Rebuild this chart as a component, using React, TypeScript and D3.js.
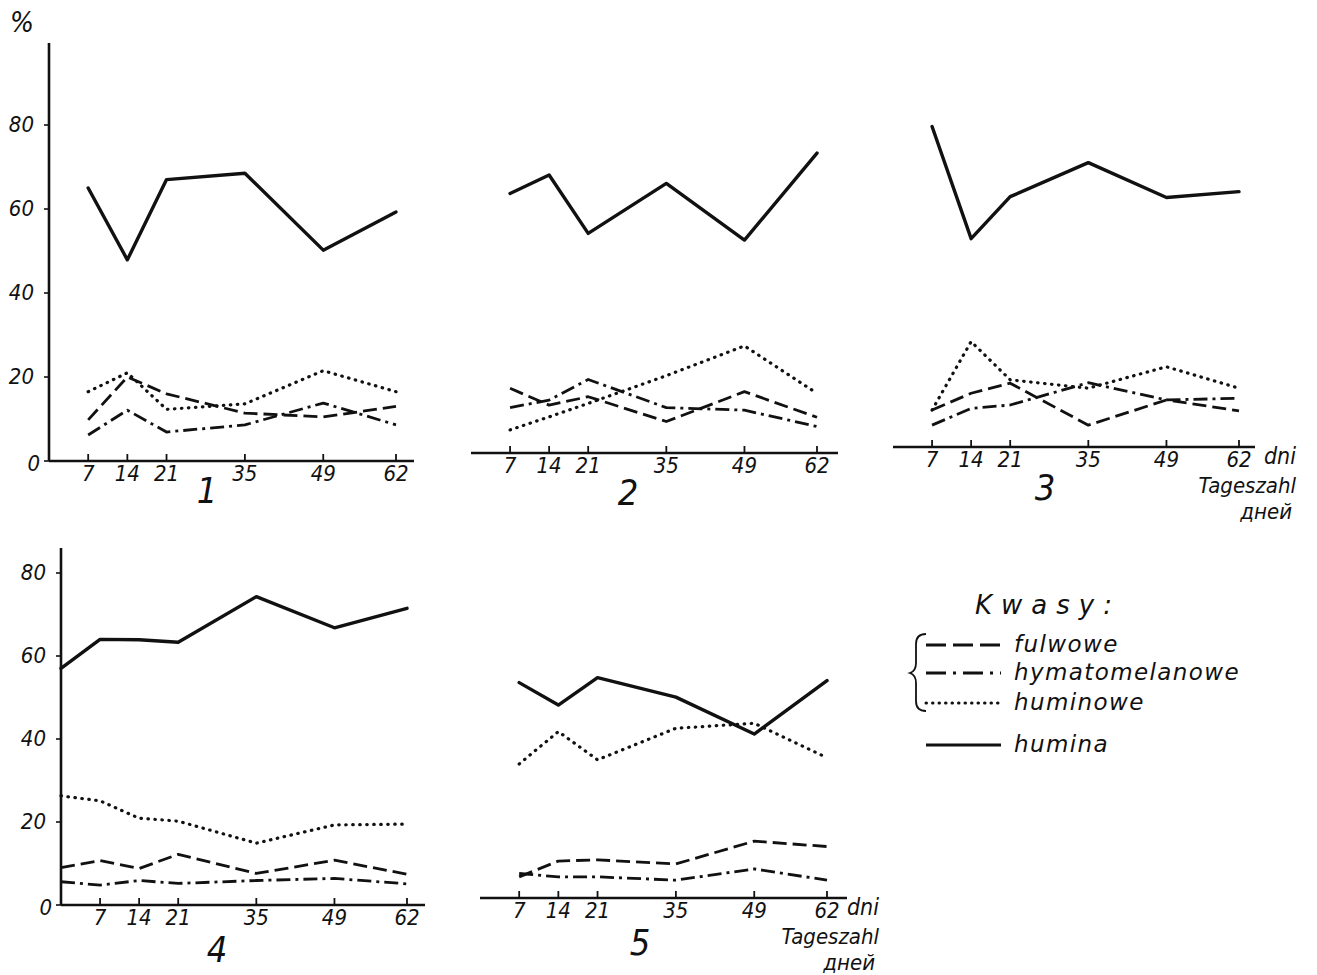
import React from "react";
import * as d3 from "d3";

// sampling days (panel 4 also has a day-0 reading)
const days = [7, 14, 21, 35, 49, 62];
const days4 = [0, 7, 14, 21, 35, 49, 62];
const yTicks = [0, 20, 40, 60, 80];

// panel 1
const humina1 = [65, 47.9, 67, 68.5, 50.2, 59.3];
const huminowe1 = [16.5, 21, 12.3, 13.6, 21.5, 16.5];
const fulwowe1 = [9.8, 20, 16, 11.4, 10.5, 13];
const hymato1 = [6.2, 12.1, 6.9, 8.6, 13.8, 8.6];

// panel 2
const humina2 = [61.8, 66.2, 52.3, 64.2, 50.7, 71.4];
const huminowe2 = [5.5, 8.6, 11.8, 18.4, 25.5, 14.2];
const fulwowe2 = [15.4, 11.4, 13.4, 7.5, 14.6, 8.5];
const hymato2 = [10.8, 12.6, 17.5, 10.8, 10.2, 6.3];

// panel 3
const humina3 = [76.3, 49.6, 59.6, 67.7, 59.4, 60.8];
const huminowe3 = [8.8, 25.1, 16, 14, 19.1, 14];
const fulwowe3 = [8.8, 12.8, 15.2, 5.2, 11.2, 8.6];
const hymato3 = [5.2, 9.2, 10, 15.3, 11.2, 11.6];

// panel 4
const humina4 = [57, 64, 63.9, 63.3, 74.3, 66.8, 71.5];
const huminowe4 = [26.3, 25.1, 20.9, 20.2, 14.9, 19.3, 19.5];
const fulwowe4 = [9, 10.7, 8.8, 12.2, 7.6, 10.8, 7.4];
const hymato4 = [5.6, 4.8, 5.9, 5.2, 5.9, 6.4, 5.1];

// panel 5
const humina5 = [51.9, 46.5, 53.1, 48.4, 39.5, 52.4];
const huminowe5 = [32.3, 40.1, 33.3, 40.9, 42.1, 33.8];
const fulwowe5 = [5.1, 8.9, 9.2, 8.2, 13.7, 12.4];
const hymato5 = [5.9, 5.1, 5.1, 4.3, 7, 4.3];

const legendLabels = ["fulwowe", "hymatomelanowe", "huminowe", "humina"];

const FONT = "'DejaVu Sans', sans-serif";
const NUMFONT = "'Liberation Sans Narrow', 'DejaVu Sans Condensed', sans-serif";

const styles: Record<string, { dash?: string; width: number; cap: string }> = {
  humina: { width: 3.4, cap: "round" },
  fulwowe: { dash: "14 6", width: 2.8, cap: "butt" },
  hymato: { dash: "14 5 3 5", width: 2.8, cap: "butt" },
  huminowe: { dash: "0.5 6.5", width: 3.2, cap: "round" },
};

type Panel = {
  x0: number; x62: number; y0: number; k: number;
  yAxisTop?: number; xEnd: number;
  label: string; lx: number; ly: number; dniRight?: number;
  xs: number[];
  series: { key: string; values: number[] }[];
};

const panels: Panel[] = [
  { x0: 49, x62: 396, y0: 461, k: 4.2, yAxisTop: 99.5, xEnd: 414, label: "1", lx: 207, ly: 503, xs: days,
    series: [{ key: "humina", values: humina1 }, { key: "huminowe", values: huminowe1 }, { key: "fulwowe", values: fulwowe1 }, { key: "hymato", values: hymato1 }] },
  { x0: 471, x62: 817, y0: 453, k: 4.2, xEnd: 838, label: "2", lx: 628, ly: 505, xs: days,
    series: [{ key: "humina", values: humina2 }, { key: "huminowe", values: huminowe2 }, { key: "fulwowe", values: fulwowe2 }, { key: "hymato", values: hymato2 }] },
  { x0: 893, x62: 1239, y0: 447, k: 4.2, xEnd: 1255, label: "3", lx: 1045, ly: 500, xs: days, dniRight: 1296,
    series: [{ key: "humina", values: humina3 }, { key: "huminowe", values: huminowe3 }, { key: "fulwowe", values: fulwowe3 }, { key: "hymato", values: hymato3 }] },
  { x0: 61, x62: 407, y0: 905, k: 4.15, yAxisTop: 86, xEnd: 425, label: "4", lx: 217, ly: 962, xs: days4,
    series: [{ key: "humina", values: humina4 }, { key: "huminowe", values: huminowe4 }, { key: "fulwowe", values: fulwowe4 }, { key: "hymato", values: hymato4 }] },
  { x0: 480, x62: 827, y0: 898, k: 4.15, xEnd: 847, label: "5", lx: 640, ly: 955, xs: days, dniRight: 879,
    series: [{ key: "humina", values: humina5 }, { key: "huminowe", values: huminowe5 }, { key: "fulwowe", values: fulwowe5 }, { key: "hymato", values: hymato5 }] },
];

function PanelChart({ p }: { p: Panel }) {
  const x = d3.scaleLinear().domain([0, 62]).range([p.x0, p.x62]);
  const y = d3.scaleLinear().domain([0, 100]).range([p.y0, p.y0 - 100 * p.k]);
  const line = d3.line<number>()
    .x((_, i) => x(p.xs[i]))
    .y(v => y(v));
  return (
    <g>
      {/* x baseline */}
      <line x1={p.x0} x2={p.xEnd} y1={p.y0} y2={p.y0} stroke="#111" strokeWidth={2.6} />
      {days.map(d => (
        <g key={d}>
          <line x1={x(d)} x2={x(d)} y1={p.y0} y2={p.y0 - 7} stroke="#111" strokeWidth={1.8} />
          <text x={x(d)} y={p.y0 + 20} textAnchor="middle" fontSize={22} fontStyle="italic" fontFamily={NUMFONT} fill="#111">{d}</text>
        </g>
      ))}
      {p.yAxisTop !== undefined && (
        <g>
          <line x1={p.x0} x2={p.x0} y1={p.y0} y2={y(p.yAxisTop)} stroke="#111" strokeWidth={2.6} />
          {yTicks.map(t => (
            <g key={t}>
              <line x1={p.x0} x2={p.x0 - 5} y1={y(t)} y2={y(t)} stroke="#111" strokeWidth={1.6} />
              <text x={p.x0 - (t === 0 ? 9 : 15)} y={y(t) + (t === 0 ? 10 : 7)} textAnchor="end" fontSize={22} fontStyle="italic" fontFamily={NUMFONT} fill="#111">{t}</text>
            </g>
          ))}
        </g>
      )}
      {p.series.map(s => {
        const st = styles[s.key];
        return (
          <path key={s.key} d={line(s.values) || ""} fill="none" stroke="#111"
            strokeWidth={st.width} strokeDasharray={st.dash} strokeLinecap={st.cap as any} strokeLinejoin="round" />
        );
      })}
      <text x={p.lx} y={p.ly} textAnchor="middle" fontSize={36} fontStyle="italic" fontFamily={NUMFONT} fill="#111">{p.label}</text>
      {p.dniRight !== undefined && (
        <g fontStyle="italic" fontFamily={NUMFONT} fill="#111">
          <text x={p.dniRight} y={p.y0 + 17} fontSize={23} textAnchor="end">dni</text>
          <text x={p.dniRight} y={p.y0 + 46} fontSize={22} textAnchor="end">Tageszahl</text>
          <text x={p.dniRight - 4} y={p.y0 + 72} fontSize={22} textAnchor="end">дней</text>
        </g>
      )}
    </g>
  );
}

function Legend() {
  const rows = [
    { key: "fulwowe", y: 645, dash: "20 7" },
    { key: "hymato", y: 673, dash: "20 7 3 7" },
    { key: "huminowe", y: 703, dash: "0.5 6" },
    { key: "humina", y: 745, dash: undefined },
  ];
  return (
    <g>
      <text x={975} y={614} fontSize={26} fontStyle="italic" fontFamily={FONT} letterSpacing={9} fill="#111">Kwasy:</text>
      <path d="M 926 634 Q 916 634 916 644 L 916 663 Q 916 671 910 673 Q 916 675 916 683 L 916 701 Q 916 711 926 711"
        fill="none" stroke="#111" strokeWidth={1.8} />
      {rows.map((r, i) => (
        <g key={r.key}>
          <line x1={926} x2={1001} y1={r.y} y2={r.y} stroke="#111" strokeWidth={r.key === "humina" ? 3.2 : 3}
            strokeDasharray={r.dash} strokeLinecap={r.key === "huminowe" ? "round" : "butt"} />
          <text x={1014} y={r.y + 7} fontSize={23} letterSpacing={1.4} fontStyle="italic" fontFamily={FONT} fill="#111">{legendLabels[i]}</text>
        </g>
      ))}
    </g>
  );
}

export default function App() {
  return (
    <svg width={1317} height={975} style={{ position: "absolute", left: 0, top: 0, background: "#fff" }}>
      <rect width={1317} height={975} fill="#fff" />
      <text x={10} y={32} fontSize={28} fontStyle="italic" fontFamily={NUMFONT} fill="#111">%</text>
      {panels.map(p => <PanelChart key={p.label} p={p} />)}
      <Legend />
    </svg>
  );
}
